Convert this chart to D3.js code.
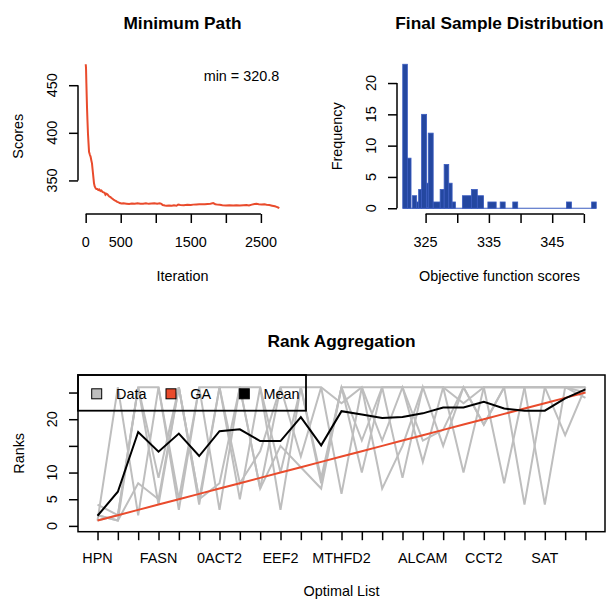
<!DOCTYPE html>
<html>
<head>
<meta charset="utf-8">
<script src="https://cdn.jsdelivr.net/npm/d3@7"></script>
<style>
body { margin: 0; background: #fff; }
text { font-family: "Liberation Sans", Arial, Helvetica, sans-serif; fill: #000; }
</style>
</head>
<body>
<div id="chart"></div>
<script>
/*** data ***/

// minimum path (best score per iteration)
var pathIter = [1, 5, 10, 15, 19, 25, 33, 40, 48, 60, 70, 81, 90, 98, 105, 112, 119, 128, 140, 152,
  165, 180, 195, 210, 224, 240, 255, 270, 282, 295, 310, 325, 340, 355, 367, 380, 395, 414, 430, 450,
  470, 486, 510, 540, 581, 620, 660, 700, 740, 780, 819, 860, 900, 940, 980, 1020, 1057, 1080, 1100, 1130,
  1152, 1190, 1230, 1260, 1295, 1320, 1350, 1400, 1450, 1500, 1533, 1580, 1620, 1660, 1700, 1740, 1780, 1819, 1850, 1880,
  1914, 1950, 2000, 2050, 2105, 2150, 2200, 2250, 2295, 2330, 2370, 2410, 2438, 2470, 2510, 2550, 2581, 2620, 2660, 2700,
  2724, 2745, 2762];
var pathScore = [472, 468, 452, 438, 427, 414, 399, 390, 380, 377, 375, 371, 368, 362, 357, 352, 347, 344, 342, 341,
  341, 340, 340.5, 339, 339.5, 338, 337.5, 337, 335, 336, 335.5, 334, 333, 332.5, 331.5, 331, 330, 329, 328.5, 327.5,
  327, 326.3, 325.8, 326, 325.6, 325.2, 325.7, 325.4, 325.9, 325.5, 325.6, 326, 325.4, 325.8, 326.1, 325.5, 326, 325.4, 324.2, 323.6,
  323.5, 323.8, 323.5, 323.9, 323.4, 324.6, 324.1, 324, 324.4, 324.2, 324.6, 324.8, 325, 325.1, 324.9, 325.3, 325.6, 326.2, 325, 324.6,
  324.4, 323.9, 323.8, 324, 323.6, 323.9, 323.7, 324, 324.2, 323.8, 324.6, 325.3, 325.5, 325.1, 324.8, 324.9, 324.4, 324.2, 323.5, 322.8,
  322.2, 321.6, 320.8];
var pathXTicks = [0, 500, 1000, 1500, 2000, 2500];
var pathXLabels = ["0", "500", "", "1500", "", "2500"];
var pathYTicks = [350, 400, 450];

// final sample distribution (bin edges and counts)
var histEdges = [321.39, 322.12, 322.70, 322.91, 323.59, 323.90, 324.37, 325.16, 325.42, 326.20,
  327.30, 327.93, 328.66, 329.19, 329.71, 330.81, 332.23, 333.17, 334.16, 334.84,
  336.15, 336.78, 337.57, 338.77, 339.55, 347.25, 348.04, 351.23, 351.96];
var histCounts = [23, 8, 0, 2, 1, 3, 15, 4, 12, 1, 3, 7, 4, 1, 0, 2, 3, 2, 0, 1, 0, 1, 0, 1, 0, 1, 0, 1];
var histXTicks = [325, 330, 335, 340, 345, 350];
var histXLabels = ["325", "", "335", "", "345", ""];
var histYTicks = [0, 5, 10, 15, 20];

// rank aggregation
var geneLabels = ["HPN", "", "", "FASN", "", "", "0ACT2", "", "", "EEF2", "", "", "MTHFD2", "", "", "",
  "ALCAM", "", "", "CCT2", "", "", "SAT", "", ""];
var listA = [1, 26, 2, 26, 3, 26, 26, 5, 26, 3, 26, 9, 26, 16, 26, 26, 12, 26, 26, 19, 26, 26, 26, 26, 26];
var listB = [2, 1, 26, 9, 26, 5, 26, 26, 7, 26, 13, 26, 6, 26, 7, 15, 26, 26, 10, 26, 26, 4, 26, 26, 24];
var listC = [4, 2, 26, 26, 5, 26, 3, 26, 26, 10, 26, 8, 26, 10, 26, 9, 26, 15, 26, 19, 26, 26, 4, 26, 26];
var listD = [1, 2, 26, 4, 26, 4, 26, 8, 14, 26, 26, 26, 23, 26, 16, 26, 16, 18, 26, 26, 8, 26, 26, 17, 26];
var listE = [2, 1, 8, 5, 26, 5, 8, 26, 7, 15, 11, 7, 26, 26, 26, 26, 26, 26, 23, 26, 26, 26, 26, 26, 25];
var gaRank = [1, 2, 3, 4, 5, 6, 7, 8, 9, 10, 11, 12, 13, 14, 15, 16, 17, 18, 19, 20, 21, 22, 23, 24, 25];
var meanRank = [1.9, 6.4, 17.6, 13.9, 17.3, 13.1, 17.75, 18.1, 15.9, 15.9, 20.4, 15.1, 21.5, 20.9, 20.25,
  20.4, 21.1, 22.2, 22.2, 23.25, 22, 21.6, 21.6, 23.9, 25.6];
var rankLim = [0, 27.2];
var rankYTicks = [0, 5, 10, 15, 20, 25];
var rankYLabels = ["0", "5", "10", "", "20", ""];
var legendNames = ["Data", "GA", "Mean"];

var RED = "#E94B2C", BLUE = "#2447A0", GRAY = "#BEBEBE";
var FS = 14.4;

/*** layout ***/
var W = 608, H = 599;
var svg = d3.select("#chart").append("svg").attr("width", W).attr("height", H);

var topY0 = 58.5, topY1 = 214;
var pathX0 = 78, pathX1 = 287;
var histX0 = 395, histX1 = 604;
var rankX0 = 78, rankX1 = 605, rankY0 = 375, rankY1 = 531.7;

// R style: 4% padding round the data range
function rPad(ext) {
  var d = (ext[1] - ext[0]) * 0.04;
  return [ext[0] - d, ext[1] + d];
}

function title(txt, x, y) {
  svg.append("text").attr("x", x).attr("y", y).attr("text-anchor", "middle")
    .attr("font-size", 17.3).attr("font-weight", "bold").text(txt);
}
function xTitle(txt, x, y) {
  svg.append("text").attr("x", x).attr("y", y).attr("text-anchor", "middle")
    .attr("font-size", FS).text(txt);
}
function yTitle(txt, x, y) {
  svg.append("text").attr("transform", "translate(" + x + "," + y + ") rotate(-90)")
    .attr("text-anchor", "middle").attr("font-size", FS).text(txt);
}

// axis with line only from first to last tick, labels drawn by hand
function bottomAxis(scale, ticks, labels, yPos) {
  var g = svg.append("g").attr("transform", "translate(0," + yPos + ")")
    .call(d3.axisBottom(scale).tickValues(ticks).tickSize(9).tickSizeOuter(0).tickFormat(""));
  g.select(".domain").attr("d", "M" + scale(ticks[0]) + ",0H" + scale(ticks[ticks.length - 1]));
  g.selectAll("path,line").attr("stroke", "#000").attr("stroke-width", 1.5);
  ticks.forEach(function (t, i) {
    if (labels[i] === "") return;
    svg.append("text").attr("x", scale(t)).attr("y", yPos + 32.5)
      .attr("text-anchor", "middle").attr("font-size", FS).text(labels[i]);
  });
}
function leftAxis(scale, ticks, labels, xPos) {
  var g = svg.append("g").attr("transform", "translate(" + xPos + ",0)")
    .call(d3.axisLeft(scale).tickValues(ticks).tickSize(9).tickSizeOuter(0).tickFormat(""));
  g.select(".domain").attr("d", "M0," + scale(ticks[0]) + "V" + scale(ticks[ticks.length - 1]));
  g.selectAll("path,line").attr("stroke", "#000").attr("stroke-width", 1.5);
  ticks.forEach(function (t, i) {
    if (labels[i] === "") return;
    svg.append("text").attr("transform", "translate(" + (xPos - 20.7) + "," + scale(t) + ") rotate(-90)")
      .attr("text-anchor", "middle").attr("font-size", FS).text(labels[i]);
  });
}

/* --------------- MINIMUM PATH ------------ */
var xPath = d3.scaleLinear().domain(rPad(d3.extent(pathIter))).range([pathX0, pathX1]);
var yPath = d3.scaleLinear().domain(rPad(d3.extent(pathScore))).range([topY1, topY0]);

svg.append("path")
  .datum(pathIter)
  .attr("d", d3.line().x(function (d) { return xPath(d); })
    .y(function (d, i) { return yPath(pathScore[i]); }))
  .attr("fill", "none").attr("stroke", RED).attr("stroke-width", 2);

bottomAxis(xPath, pathXTicks, pathXLabels, topY1);
leftAxis(yPath, pathYTicks, pathYTicks.map(String), pathX0);
title("Minimum Path", (pathX0 + pathX1) / 2, 28.5);
xTitle("Iteration", (pathX0 + pathX1) / 2, 281);
yTitle("Scores", pathX0 - 55, (topY0 + topY1) / 2);

svg.append("text").attr("x", xPath(pathIter[pathIter.length - 1])).attr("y", 80.5)
  .attr("text-anchor", "end").attr("font-size", FS)
  .text("min = " + d3.min(pathScore).toFixed(1));

/* --------------- FINAL SAMPLE DISTRIBUTION ------------ */
var xHist = d3.scaleLinear().domain(rPad(d3.extent(histEdges))).range([histX0, histX1]);
var yHist = d3.scaleLinear().domain(rPad([0, d3.max(histCounts)])).range([topY1, topY0]);

// empty bins show as a blue base line
svg.append("line")
  .attr("x1", xHist(histEdges[0])).attr("x2", xHist(histEdges[histEdges.length - 1]))
  .attr("y1", yHist(0)).attr("y2", yHist(0))
  .attr("stroke", "#3B5CC0").attr("stroke-width", 1.2);

svg.selectAll(".bar").data(histCounts).enter().append("rect")
  .attr("class", "bar")
  .attr("x", function (d, i) { return xHist(histEdges[i]); })
  .attr("width", function (d, i) { return xHist(histEdges[i + 1]) - xHist(histEdges[i]); })
  .attr("y", function (d) { return yHist(d); })
  .attr("height", function (d) { return yHist(0) - yHist(d); })
  .attr("fill", BLUE).attr("stroke", "#3B5CC0").attr("stroke-width", 0.8);

bottomAxis(xHist, histXTicks, histXLabels, topY1);
leftAxis(yHist, histYTicks, histYTicks.map(String), histX0 + 2);
title("Final Sample Distribution", (histX0 + histX1) / 2, 28.5);
xTitle("Objective function scores", (histX0 + histX1) / 2, 281);
yTitle("Frequency", histX0 + 2 - 55, (topY0 + topY1) / 2);

/* --------------- RANK AGGREGATION ------------ */
var pos = geneLabels.map(function (d, i) { return i + 1; });
var xRank = d3.scaleLinear().domain(rPad(d3.extent(pos))).range([rankX0, rankX1]);
var yRank = d3.scaleLinear().domain(rPad(rankLim)).range([rankY1, rankY0]);

var rankLine = d3.line().x(function (d, i) { return xRank(pos[i]); })
  .y(function (d) { return yRank(d); });

[listA, listB, listC, listD, listE].forEach(function (lst) {
  svg.append("path").datum(lst).attr("d", rankLine)
    .attr("fill", "none").attr("stroke", GRAY).attr("stroke-width", 2);
});
svg.append("path").datum(gaRank).attr("d", rankLine)
  .attr("fill", "none").attr("stroke", RED).attr("stroke-width", 2);
svg.append("path").datum(meanRank).attr("d", rankLine)
  .attr("fill", "none").attr("stroke", "#000").attr("stroke-width", 2);

svg.append("rect").attr("x", rankX0).attr("y", rankY0)
  .attr("width", rankX1 - rankX0).attr("height", rankY1 - rankY0)
  .attr("fill", "none").attr("stroke", "#000").attr("stroke-width", 1.5);

// ticks
var gx = svg.append("g").attr("transform", "translate(0," + rankY1 + ")")
  .call(d3.axisBottom(xRank).tickValues(pos).tickSize(8.5).tickSizeOuter(0).tickFormat(""));
gx.select(".domain").remove();
gx.selectAll("line").attr("stroke", "#000").attr("stroke-width", 1.5);
pos.forEach(function (p, i) {
  if (geneLabels[i] === "") return;
  svg.append("text").attr("x", xRank(p)).attr("y", rankY1 + 31.5)
    .attr("text-anchor", "middle").attr("font-size", FS).text(geneLabels[i]);
});
var gy = svg.append("g").attr("transform", "translate(" + rankX0 + ",0)")
  .call(d3.axisLeft(yRank).tickValues(rankYTicks).tickSize(9).tickSizeOuter(0).tickFormat(""));
gy.select(".domain").remove();
gy.selectAll("line").attr("stroke", "#000").attr("stroke-width", 1.5);
rankYTicks.forEach(function (t, i) {
  if (rankYLabels[i] === "") return;
  svg.append("text").attr("transform", "translate(" + (rankX0 - 20.7) + "," + yRank(t) + ") rotate(-90)")
    .attr("text-anchor", "middle").attr("font-size", FS).text(rankYLabels[i]);
});

title("Rank Aggregation", (rankX0 + rankX1) / 2, 346.5);
xTitle("Optimal List", (rankX0 + rankX1) / 2, 596);
yTitle("Ranks", rankX0 - 54.5, (rankY0 + rankY1) / 2);

// legend
var legColors = [GRAY, RED, "#000"];
var legX = [91.7, 166, 239.3];
svg.append("rect").attr("x", rankX0).attr("y", rankY0).attr("width", 228).attr("height", 35.7)
  .attr("fill", "none").attr("stroke", "#000").attr("stroke-width", 1.8);
legendNames.forEach(function (n, i) {
  svg.append("rect").attr("x", legX[i]).attr("y", 388.8).attr("width", 10).attr("height", 10)
    .attr("fill", legColors[i]).attr("stroke", "#000").attr("stroke-width", 1);
  svg.append("text").attr("x", legX[i] + 24.3).attr("y", 398.5).attr("font-size", FS).text(n);
});
</script>
</body>
</html>
